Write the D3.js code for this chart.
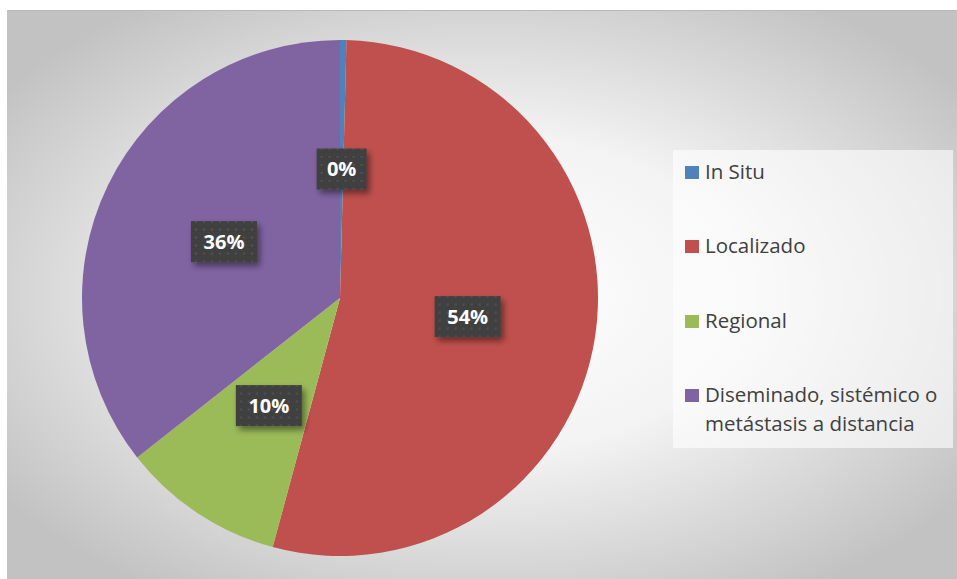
<!DOCTYPE html>
<html><head><meta charset="utf-8">
<script src="https://cdn.jsdelivr.net/npm/d3@7"></script>
<style>body{margin:0;background:#fff}svg{display:block}</style>
</head><body>
<svg id="c" width="957" height="579"></svg>
<script>
const categories = ["In Situ", "Localizado", "Regional", "Diseminado, sistémico o metástasis a distancia"];
const values = [0.4, 53.8, 10.2, 35.6];
const labels = ["0%", "54%", "10%", "36%"];
const colors = ["#4f81bd", "#c0504d", "#9bbb59", "#8064a2"];
const legendLines = [["In Situ"], ["Localizado"], ["Regional"], ["Diseminado, sistémico o", "metástasis a distancia"]];

const svg = d3.select("#c");
const defs = svg.append("defs");
const rg = defs.append("radialGradient").attr("id","bg").attr("cx","50%").attr("cy","50%").attr("r","62%");
rg.append("stop").attr("offset","0%").attr("stop-color","#ffffff");
rg.append("stop").attr("offset","45%").attr("stop-color","#f3f3f3");
rg.append("stop").attr("offset","100%").attr("stop-color","#c2c2c2");
const pat = defs.append("pattern").attr("id","dots").attr("width",8).attr("height",8).attr("patternUnits","userSpaceOnUse");
pat.append("rect").attr("width",8).attr("height",8).attr("fill","#3f3f3f");
pat.append("circle").attr("cx",4).attr("cy",4).attr("r",1.3).attr("fill","#505050");
const f = defs.append("filter").attr("id","sh").attr("x","-20%").attr("y","-20%").attr("width","150%").attr("height","160%");
f.append("feDropShadow").attr("dx",3).attr("dy",4).attr("stdDeviation",3).attr("flood-color","#000").attr("flood-opacity",0.45);

svg.append("rect").attr("x",7).attr("y",10).attr("width",950).attr("height",569).attr("fill","url(#bg)");
svg.append("line").attr("x1",7).attr("x2",957).attr("y1",10.5).attr("y2",10.5).attr("stroke","#b8b8b8");

const cx = 340, cy = 298, R = 258;
const pie = d3.pie().sort(null).value(d=>d);
const arcs = pie(values);
const arc = d3.arc().innerRadius(0).outerRadius(R);
const g = svg.append("g").attr("transform",`translate(${cx},${cy})`);
g.selectAll("path").data(arcs).join("path").attr("d",arc).attr("fill",(d,i)=>colors[i]);

const lab = d3.arc().innerRadius(R*0.5).outerRadius(R*0.5);
arcs.forEach((d,i)=>{
  const [x,y] = lab.centroid(d);
  const w = labels[i].length>2 ? 66 : 50, h = 41;
  const lg = g.append("g").attr("transform",`translate(${x},${y})`);
  lg.append("rect").attr("x",-w/2).attr("y",-h/2).attr("width",w).attr("height",h).attr("fill","url(#dots)").attr("filter","url(#sh)");
  lg.append("text").attr("text-anchor","middle").attr("dy","0.36em").attr("fill","#fff")
    .attr("font-family","'Open Sans', sans-serif").attr("font-weight","bold").attr("font-size",20).text(labels[i]);
});

// legend
svg.append("rect").attr("x",673).attr("y",150).attr("width",280).attr("height",298).attr("fill","#ffffff").attr("opacity",0.6);
const ly = [172, 246, 321, 395];
categories.forEach((c,i)=>{
  svg.append("rect").attr("x",685).attr("y",ly[i]-6).attr("width",14).attr("height",13).attr("fill",colors[i]);
  const t = svg.append("text").attr("x",705).attr("y",ly[i]).attr("fill","#404040")
    .attr("font-family","'Open Sans', sans-serif").attr("font-size",20.5);
  legendLines[i].forEach((l,j)=>{
    t.append("tspan").attr("x",705).attr("dy", j===0 ? "0.35em" : "29px").text(l);
  });
});
</script>
</body></html>
